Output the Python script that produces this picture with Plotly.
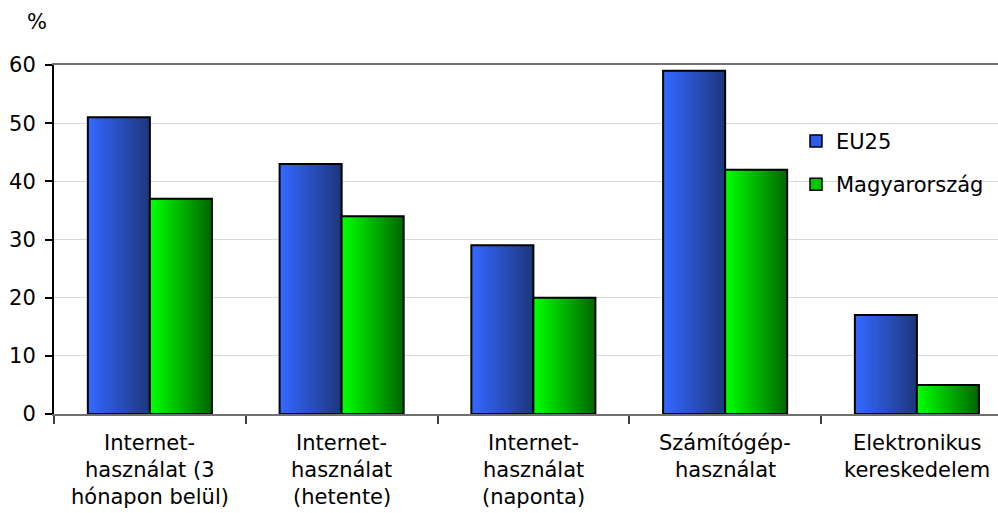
import plotly.graph_objects as go

# Data
categories = ["Internet 3 hónap", "Internet hetente", "Internet naponta",
              "Számítógép", "E-kereskedelem"]
label_lines = [
    ["Internet-", "használat (3", "hónapon belül)"],
    ["Internet-", "használat", "(hetente)"],
    ["Internet-", "használat", "(naponta)"],
    ["Számítógép-", "használat"],
    ["Elektronikus", "kereskedelem"],
]
series_names = ["EU25", "Magyarország"]
eu25 = [51, 43, 29, 59, 17]
hungary = [37, 34, 20, 42, 5]
y_ticks = [0, 10, 20, 30, 40, 50, 60]

FONT = "DejaVu Sans, Verdana, sans-serif"
FS = 21
BAR_W = 0.3235          # width of one bar in category units
N_SLICES = 28           # slices used to build the horizontal gradient

gradients = {
    "EU25": ((52, 104, 255), (30, 55, 125)),
    "Magyarország": ((0, 255, 0), (0, 105, 0)),
}
legend_colors = {"EU25": "#2f5ce6", "Magyarország": "#00c800"}


def lerp(c1, c2, t):
    return "rgb(%d,%d,%d)" % tuple(round(a + (b - a) * t) for a, b in zip(c1, c2))


fig = go.Figure()

for s_idx, (name, values) in enumerate(zip(series_names, [eu25, hungary])):
    base = -BAR_W + s_idx * BAR_W
    c_left, c_right = gradients[name]
    step = BAR_W / N_SLICES
    for i in range(N_SLICES):
        t = i / (N_SLICES - 1)
        w = step * 1.5 if i < N_SLICES - 1 else step
        fig.add_trace(go.Bar(
            x=categories, y=values,
            offset=base + i * step, width=w,
            marker=dict(color=lerp(c_left, c_right, t), line=dict(width=0)),
            showlegend=False, hoverinfo="skip",
        ))
    # outline of each bar
    fig.add_trace(go.Bar(
        x=categories, y=values, offset=base, width=BAR_W,
        marker=dict(color="rgba(0,0,0,0)", line=dict(color="black", width=2)),
        name=name, showlegend=False,
    ))

# legend entries
for name in series_names:
    fig.add_trace(go.Bar(
        x=[categories[0]], y=[None], name=name, legendgroup=name,
        marker=dict(color=legend_colors[name], line=dict(color="black", width=1.5)),
        showlegend=True,
    ))

# category labels, one annotation per line
line_shift = [29, 56, 83]
for cat, lines in zip(categories, label_lines):
    for k, txt in enumerate(lines):
        fig.add_annotation(
            x=cat, xref="x", y=0, yref="paper",
            yanchor="middle", yshift=-line_shift[k],
            text=txt, showarrow=False,
            font=dict(family=FONT, size=FS, color="black"),
        )

# unit label above the value axis
fig.add_annotation(
    x=(37 - 54) / 944, xref="paper", y=(414 - 22) / 349, yref="paper",
    xanchor="center", yanchor="middle", text="%", showarrow=False,
    font=dict(family=FONT, size=FS, color="black"),
)

fig.update_layout(
    width=998, height=513,
    margin=dict(l=54, r=0, t=65, b=99),
    paper_bgcolor="white", plot_bgcolor="white",
    barmode="overlay",
    font=dict(family=FONT, size=FS, color="black"),
    legend=dict(
        x=0.786, y=0.84, xanchor="left", yanchor="top",
        traceorder="grouped", tracegroupgap=13,
        font=dict(family=FONT, size=FS, color="black"),
        bgcolor="rgba(0,0,0,0)",
    ),
    xaxis=dict(
        type="category", range=[-0.5, 4.423],
        showticklabels=False, ticks="outside", tickson="boundaries",
        ticklen=8, tickwidth=2, tickcolor="#404040",
        showline=True, linecolor="#707070", linewidth=2, mirror=True,
        showgrid=False, fixedrange=True,
    ),
    yaxis=dict(
        range=[0, 60], tickvals=y_ticks,
        ticks="outside", ticklen=7, tickwidth=2, tickcolor="black",
        ticklabelstandoff=5,
        showline=True, linecolor="black", linewidth=2,
        showgrid=True, gridcolor="#d9d9d9", gridwidth=1,
        zeroline=False,
        tickfont=dict(family=FONT, size=FS, color="black"),
    ),
    showlegend=True,
)

fig.write_html("out.html")
